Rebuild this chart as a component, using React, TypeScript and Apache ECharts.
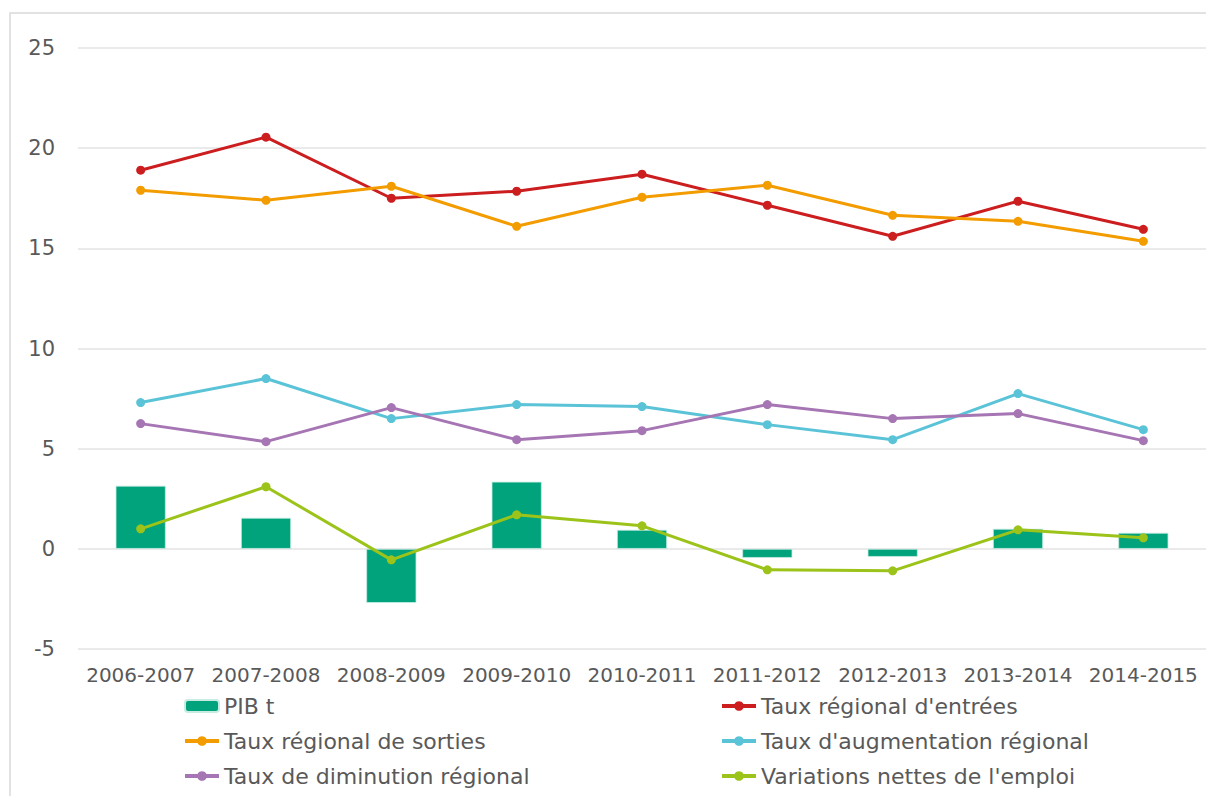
import React, { useEffect, useRef } from "react";
import * as echarts from "echarts";

const categories = ["2006-2007", "2007-2008", "2008-2009", "2009-2010", "2010-2011", "2011-2012", "2012-2013", "2013-2014", "2014-2015"];
const pibT = [3.15, 1.55, -2.7, 3.35, 0.95, -0.45, -0.4, 1.0, 0.8];
const tauxEntrees = [18.9, 20.55, 17.5, 17.85, 18.7, 17.15, 15.6, 17.35, 15.95];
const tauxSorties = [17.9, 17.4, 18.1, 16.1, 17.55, 18.15, 16.65, 16.35, 15.35];
const tauxAugmentation = [7.3, 8.5, 6.5, 7.2, 7.1, 6.2, 5.45, 7.75, 5.95];
const tauxDiminution = [6.25, 5.35, 7.05, 5.45, 5.9, 7.2, 6.5, 6.75, 5.4];
const variationsEmploi = [1.0, 3.1, -0.55, 1.7, 1.15, -1.05, -1.1, 0.95, 0.55];
const yTicks = { min: -5, max: 25, interval: 5 };

const FONT = "'DejaVu Sans', sans-serif";
const TEXT = "#595959";

function lineSeries(name: string, data: number[], color: string) {
  return {
    name,
    type: "line",
    data,
    symbol: "circle",
    symbolSize: 9,
    lineStyle: { color, width: 3 },
    itemStyle: { color },
    z: 3,
  };
}

export default function App() {
  const ref = useRef<HTMLDivElement>(null);
  useEffect(() => {
    if (!ref.current) return;
    const chart = echarts.init(ref.current, undefined, { renderer: "svg" });
    const legendText = { color: TEXT, fontSize: 22, fontFamily: FONT };
    const legendCommon = {
      orient: "vertical",
      top: 695,
      padding: 0,
      itemGap: 13,
      itemWidth: 34,
      itemHeight: 12,
      textStyle: legendText,
      lineStyle: { width: 4 },
    };
    chart.setOption({
      animation: false,
      backgroundColor: "#ffffff",
      textStyle: { fontFamily: FONT },
      graphic: [
        {
          type: "rect",
          shape: { x: 10, y: 13, width: 1300, height: 900 },
          style: { fill: "none", stroke: "#d9d9d9", lineWidth: 1.5 },
          silent: true,
          z: -1,
        },
      ],
      grid: { left: 78, right: 0, top: 48, bottom: 147, containLabel: false },
      legend: [
        {
          ...legendCommon,
          left: 183,
          data: ["PIB t", "Taux régional de sorties", "Taux de diminution régional"],
        },
        {
          ...legendCommon,
          left: 720,
          data: ["Taux régional d'entrées", "Taux d'augmentation régional", "Variations nettes de l'emploi"],
        },
      ],
      xAxis: {
        type: "category",
        data: categories,
        position: "bottom",
        axisLine: { show: false, onZero: false },
        axisTick: { show: false },
        axisLabel: { color: TEXT, fontSize: 20, fontFamily: FONT, margin: 16, interval: 0 },
        splitLine: { show: false },
      },
      yAxis: {
        type: "value",
        min: yTicks.min,
        max: yTicks.max,
        interval: yTicks.interval,
        axisLine: { show: false },
        axisTick: { show: false },
        axisLabel: { color: TEXT, fontSize: 21, fontFamily: FONT, margin: 23 },
        splitLine: { lineStyle: { color: "#e3e3e3", width: 1.5 } },
      },
      series: [
        {
          name: "PIB t",
          type: "bar",
          data: pibT,
          barWidth: "40%",
          itemStyle: { color: "#00a37c", borderColor: "#c8ece2", borderWidth: 0.8 },
          z: 2,
        },
        lineSeries("Taux régional d'entrées", tauxEntrees, "#cc1d1f"),
        lineSeries("Taux régional de sorties", tauxSorties, "#f39c00"),
        lineSeries("Taux d'augmentation régional", tauxAugmentation, "#5bc3d7"),
        lineSeries("Taux de diminution régional", tauxDiminution, "#a675b3"),
        lineSeries("Variations nettes de l'emploi", variationsEmploi, "#9cc31a"),
      ],
    });
    return () => chart.dispose();
  }, []);
  return (
    <div
      ref={ref}
      style={{ position: "fixed", left: 0, top: 0, width: 1206, height: 796 }}
    />
  );
}
